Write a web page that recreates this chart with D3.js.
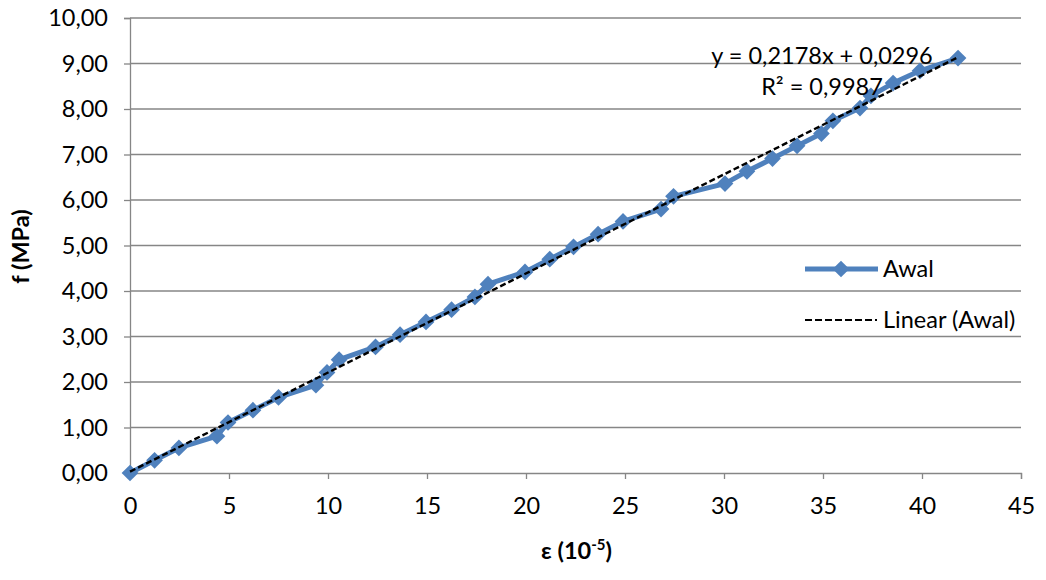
<!DOCTYPE html>
<html>
<head>
<meta charset="utf-8">
<script src="https://cdn.jsdelivr.net/npm/d3@7"></script>
<style>
  html, body { margin: 0; padding: 0; background: #fff; }
  svg text { font-family: Lato, "Open Sans", sans-serif; fill: #000; }
</style>
</head>
<body>
<svg id="chart" width="1046" height="580"></svg>
<script>
// Strain readings (x 10^-5) and stresses (MPa) for the "Awal" test
const strain = [0, 1.24, 2.47, 4.39, 4.95, 6.21, 7.5, 9.39, 9.95, 10.56,
  12.4, 13.64, 14.95, 16.24, 17.42, 18.08, 19.95, 21.2, 22.4, 23.64,
  24.9, 26.82, 27.45, 30.05, 31.16, 32.45, 33.69, 34.92, 35.5, 36.87,
  37.42, 38.54, 39.9, 41.82];
const stress = [0, 0.28, 0.55, 0.81, 1.11, 1.38, 1.66, 1.93, 2.21, 2.49,
  2.77, 3.04, 3.32, 3.59, 3.87, 4.15, 4.42, 4.70, 4.97, 5.25,
  5.53, 5.80, 6.08, 6.36, 6.63, 6.91, 7.19, 7.46, 7.74, 8.02,
  8.29, 8.57, 8.84, 9.12];
const seriesName = "Awal";
// Linear trendline coefficients, as printed on the chart
const slope = 0.2178;
const intercept = 0.0296;
const rSquared = 0.9987;
const xTicks = [0, 5, 10, 15, 20, 25, 30, 35, 40, 45];
const yTicks = [0, 1, 2, 3, 4, 5, 6, 7, 8, 9, 10];

const points = strain.map((x, i) => ({ x, y: stress[i] }));

const locale = d3.formatLocale({ decimal: ",", thousands: ".", grouping: [3], currency: ["", ""] });
const fmt2 = locale.format(".2f");
const fmt4 = locale.format(".4f");

const svg = d3.select("#chart");
const plotLeft = 130, plotRight = 1021, plotTop = 18, plotBottom = 473;
const fontSize = 23.5;

const x = d3.scaleLinear().domain([0, 45]).range([plotLeft, plotRight]);
const y = d3.scaleLinear().domain([0, 10]).range([plotBottom, plotTop]);

const axisColor = "#868686";
const blue = "#4F81BD";

// horizontal gridlines
svg.append("g")
  .selectAll("line")
  .data(yTicks.filter(d => d > 0))
  .join("line")
  .attr("x1", plotLeft).attr("x2", plotRight)
  .attr("y1", d => y(d)).attr("y2", d => y(d))
  .attr("stroke", axisColor).attr("stroke-width", 1.3);

// y axis
const yAxis = svg.append("g")
  .attr("transform", `translate(${plotLeft},0)`)
  .call(d3.axisLeft(y).tickValues(yTicks).tickFormat(fmt2).tickSize(6).tickPadding(16));
yAxis.select(".domain").attr("stroke", axisColor).attr("stroke-width", 1.3);
yAxis.selectAll(".tick line").attr("stroke", axisColor).attr("stroke-width", 1.3);
yAxis.selectAll("text").attr("font-size", fontSize).attr("fill", "#000").attr("font-family", "Lato, sans-serif");

// x axis
const xAxis = svg.append("g")
  .attr("transform", `translate(0,${plotBottom})`)
  .call(d3.axisBottom(x).tickValues(xTicks).tickFormat(d3.format("d")).tickSize(6).tickPadding(18));
xAxis.select(".domain").attr("stroke", axisColor).attr("stroke-width", 1.3);
xAxis.selectAll(".tick line").attr("stroke", axisColor).attr("stroke-width", 1.3);
xAxis.selectAll("text").attr("font-size", fontSize).attr("fill", "#000").attr("font-family", "Lato, sans-serif");

// axis titles
svg.append("text")
  .attr("x", (plotLeft + plotRight) / 2 + 1).attr("y", 559)
  .attr("text-anchor", "middle").attr("font-weight", "bold").attr("font-size", fontSize)
  .html('ε (10<tspan baseline-shift="super" font-size="15">-5</tspan>)');

svg.append("text")
  .attr("transform", `translate(29,${(plotTop + plotBottom) / 2 + 1}) rotate(-90)`)
  .attr("text-anchor", "middle").attr("font-weight", "bold").attr("font-size", fontSize)
  .text("f (MPa)");

// series line
svg.append("path")
  .datum(points)
  .attr("fill", "none")
  .attr("stroke", blue).attr("stroke-width", 5).attr("stroke-linejoin", "round")
  .attr("d", d3.line().x(d => x(d.x)).y(d => y(d.y)));

// diamond markers
const diamond = d3.symbol().type(d3.symbolSquare).size(140);
svg.append("g")
  .selectAll("path")
  .data(points)
  .join("path")
  .attr("d", diamond)
  .attr("fill", blue)
  .attr("transform", d => `translate(${x(d.x)},${y(d.y)}) rotate(45)`);

// linear trendline
const xMax = d3.max(strain);
svg.append("line")
  .attr("x1", x(0)).attr("y1", y(intercept))
  .attr("x2", x(xMax)).attr("y2", y(slope * xMax + intercept))
  .attr("stroke", "#000").attr("stroke-width", 2.4).attr("stroke-dasharray", "6,3");

// trendline equation
svg.append("text")
  .attr("x", 822).attr("y", 64).attr("text-anchor", "middle").attr("font-size", fontSize)
  .text(`y = ${fmt4(slope)}x + ${fmt4(intercept)}`);
svg.append("text")
  .attr("x", 822).attr("y", 95).attr("text-anchor", "middle").attr("font-size", fontSize)
  .text(`R² = ${fmt4(rSquared)}`);

// legend
const lg = svg.append("g");
lg.append("line").attr("x1", 805).attr("x2", 878).attr("y1", 269).attr("y2", 269)
  .attr("stroke", blue).attr("stroke-width", 5);
lg.append("path").attr("d", diamond).attr("fill", blue)
  .attr("transform", "translate(841,269) rotate(45)");
lg.append("text").attr("x", 883).attr("y", 277).attr("font-size", fontSize).text(seriesName);
lg.append("line").attr("x1", 805).attr("x2", 877).attr("y1", 320).attr("y2", 320)
  .attr("stroke", "#000").attr("stroke-width", 2).attr("stroke-dasharray", "7,3");
lg.append("text").attr("x", 883).attr("y", 328).attr("font-size", fontSize).text(`Linear (${seriesName})`);
</script>
</body>
</html>
